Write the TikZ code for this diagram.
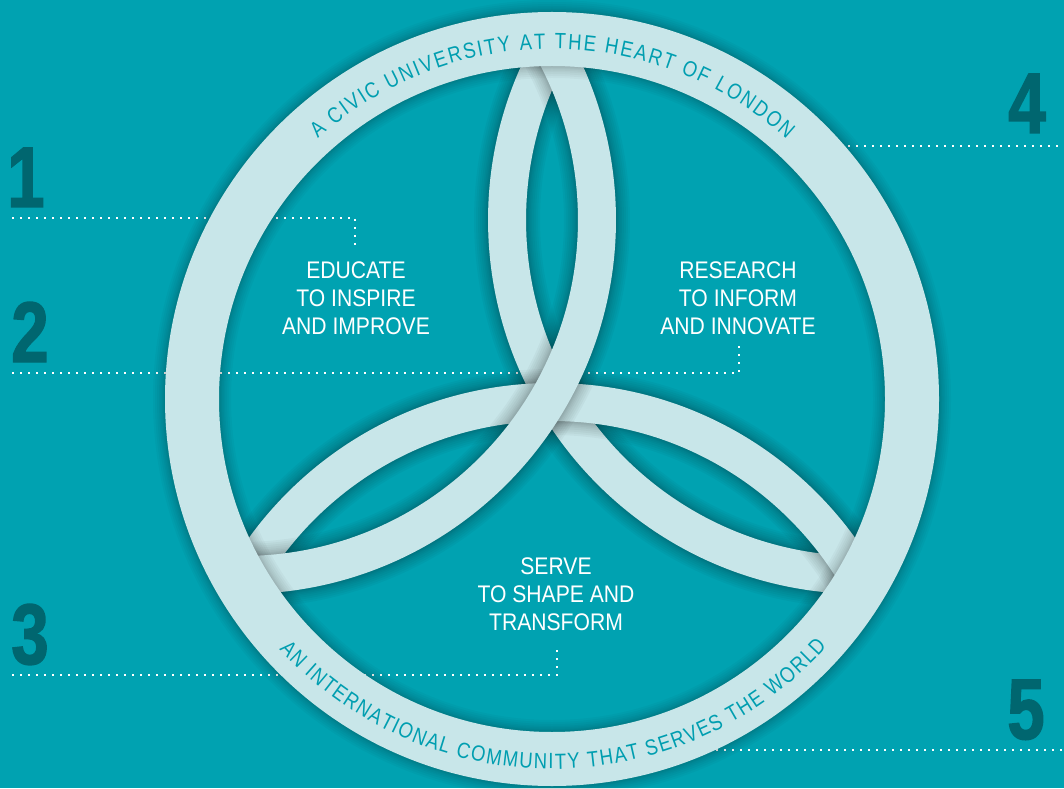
\documentclass[tikz,border=0pt]{standalone}
\usepackage{fontspec}
\setmainfont{Liberation Sans}
\newfontfamily\labfont[FakeStretch=0.88]{Liberation Sans}
\newfontfamily\ringfont[FakeStretch=0.84]{Liberation Sans}
\newfontfamily\numfont[FakeStretch=0.78,FakeBold=1.6]{Liberation Sans}
\usetikzlibrary{decorations.text}
\definecolor{bgteal}{HTML}{00A2B1}
\definecolor{bandcol}{HTML}{C8E6E9}
\definecolor{ringtxt}{HTML}{009EB0}
\definecolor{numcol}{HTML}{00666F}
\newcommand\drawband[1]{%
  \foreach \w in {66,62,58,54,50,47,44,42,40}{\draw[black, opacity=0.03, line width=\w pt] (#1:358) circle[radius=355];}
  \draw[bandstroke] (#1:358) circle[radius=355];}
\begin{document}
\begin{tikzpicture}[x=1pt,y=1pt,
  dotline/.style={white, line width=2.2pt, dash pattern=on 2.2pt off 5.8pt},
  bandstroke/.style={bandcol, line width=38pt},
  numlabel/.style={anchor=base, inner sep=0pt, text=numcol, font=\numfont\bfseries\fontsize{86}{86}\selectfont},
  lab/.style={align=center, inner sep=0pt, text=white, font=\labfont\fontsize{24}{28}\selectfont}]
\fill[bgteal] (0,0) rectangle (1064,788);
\useasboundingbox (0,0) rectangle (1064,788);
\coordinate (C) at (552,389);
% leader line end points
\coordinate (l1s) at (12,570);  \coordinate (l1c) at (355,570);  \coordinate (l1e) at (355,541);
\coordinate (l2s) at (12,415);  \coordinate (l2c) at (739,415);  \coordinate (l2e) at (739,445);
\coordinate (l3s) at (12,113);  \coordinate (l3c) at (557,113);  \coordinate (l3e) at (557,142);
\coordinate (l4s) at (800,642); \coordinate (l4e) at (1064,642);
\coordinate (l5s) at (700,38);  \coordinate (l5e) at (1064,38);
\draw[dotline] (l1s) -- (l1c) -- (l1e);
\draw[dotline] (l2s) -- (l2c) -- (l2e);
\draw[dotline] (l3s) -- (l3c) -- (l3e);
\draw[dotline] (l4s) -- (l4e);
\draw[dotline] (l5s) -- (l5e);
% interlaced bands
\begin{scope}[shift={(C)}]
  \clip (0,0) circle[radius=375];
  \drawband{30}
  \drawband{270}
  \drawband{150}
\end{scope}
% ring
\begin{scope}[shift={(C)}]
  \foreach \w in {78,74,70,66,63,60,58,56}{\draw[black, opacity=0.028, line width=\w pt] (0,0) circle[radius=360];}
  \draw[bandcol, line width=54pt] (0,0) circle[radius=360];
  \path[decorate, decoration={text along path, text align={fit to path}, text color=ringtxt,
      text={|\ringfont\fontsize{22}{22}\selectfont|A CIVIC UNIVERSITY AT THE HEART OF LONDON}}]
    (132:350) arc[start angle=132, end angle=48, radius=350];
  \path[decorate, decoration={text along path, text align={fit to path}, text color=ringtxt,
      text={|\ringfont\fontsize{22}{22}\selectfont|AN INTERNATIONAL COMMUNITY THAT SERVES THE WORLD}}]
    (222.5:370) arc[start angle=222.5, end angle=318, radius=370];
\end{scope}
% numbers
\node[numlabel] (n1) at (26,581) {1};
\node[numlabel] (n2) at (30,426) {2};
\node[numlabel] (n3) at (30,124) {3};
\node[numlabel] (n4) at (1027,655) {4};
\node[numlabel] (n5) at (1026,49) {5};
% labels
\node[lab] (educate) at (356,490) {EDUCATE\\TO INSPIRE\\AND IMPROVE};
\node[lab] (research) at (738,490) {RESEARCH\\TO INFORM\\AND INNOVATE};
\node[lab] (serve) at (556,193.5) {SERVE\\TO SHAPE AND\\TRANSFORM};
\end{tikzpicture}
\end{document}
